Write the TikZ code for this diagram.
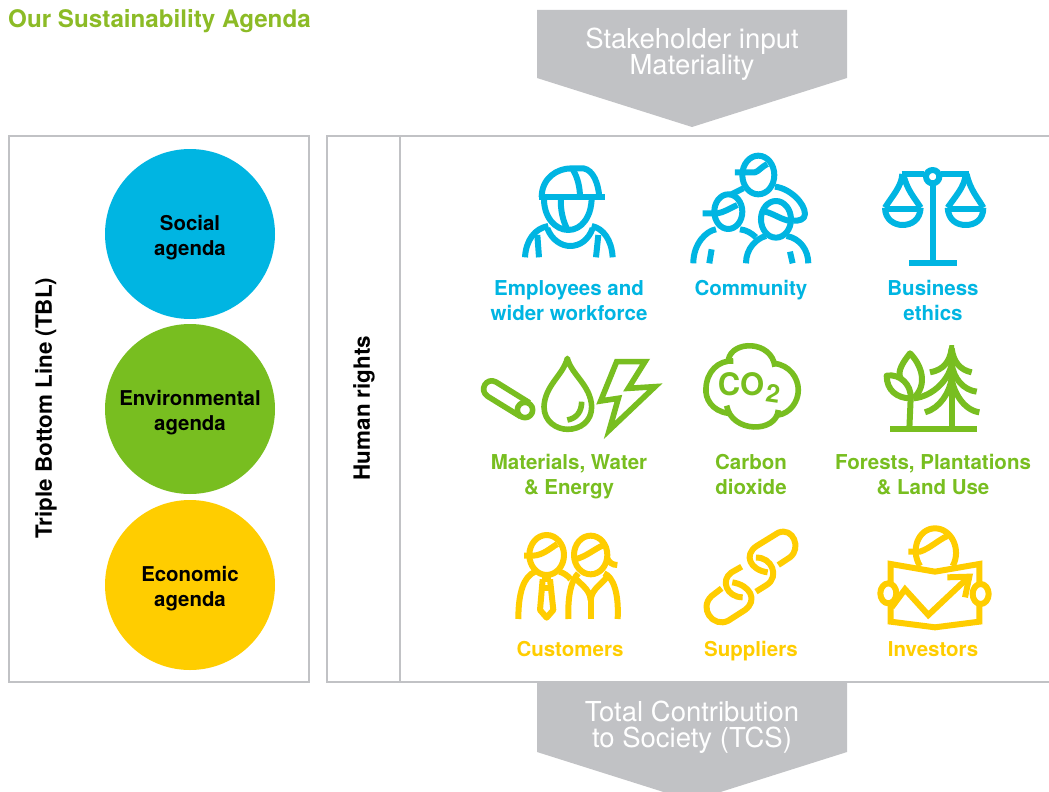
\documentclass[tikz,border=0pt]{standalone}
\usepackage{fontspec}
\setmainfont{TeX Gyre Heros}
\definecolor{cy}{HTML}{00B5E2}
\definecolor{gr}{HTML}{78BE20}
\definecolor{ye}{HTML}{FFCD00}
\definecolor{gy}{HTML}{C1C2C5}
\definecolor{ttl}{HTML}{8CBB26}
\tikzset{
 frame/.style={draw=gy,line width=2.4pt,fill=white},
 greyarrow/.style={fill=gy,draw=none},
 greytext/.style={text=white,font=\fontsize{27.5}{27}\selectfont,align=center,inner sep=0pt},
 lab/.style={font=\bfseries\fontsize{20.5}{25}\selectfont,align=center,inner sep=0pt},
 blacklab/.style={font=\bfseries\fontsize{20.4}{25}\selectfont,align=center,inner sep=0pt,text=black},
 sidelab/.style={font=\bfseries\fontsize{22.4}{25}\selectfont,inner sep=0pt,text=black},
 disc/.style={circle,minimum size=170pt,inner sep=0pt,draw=none},
 ico/.style={line width=6pt,line cap=butt,line join=round},
}
\begin{document}
\begin{tikzpicture}[x=1pt,y=-1pt]
\useasboundingbox (0,0) rectangle (1049,792);
\clip (0,0) rectangle (1049,792);
\node[anchor=base west,inner sep=0pt,text=ttl,font=\bfseries\fontsize{24.2}{25}\selectfont] (title) at (8,28) {Our Sustainability Agenda};
% arrows
\fill[greyarrow] (537,10)--(847,10)--(847,78)--(692,127)--(537,78)--cycle;
\fill[greyarrow] (537,683)--(847,683)--(847,752)--(692,801)--(537,752)--cycle;
\node[greytext] (input) at (692,54) {Stakeholder input\\[-1pt]Materiality};
\node[greytext] (tcs) at (692,727) {Total Contribution\\[-1pt]to Society (TCS)};
% frames
\draw[frame] (9,136) rectangle (309,682);
\draw[frame] (327,136) rectangle (1060,682);
\draw[draw=gy,line width=2.4pt] (400,136)--(400,682);
\node[sidelab,rotate=90] (tbl) at (46,408) {Triple Bottom Line (TBL)};
\node[sidelab,rotate=90] (hr) at (364,408) {Human rights};
% discs
\node[disc,fill=cy] (soc) at (190,234) {};
\node[disc,fill=gr] (env) at (190,409) {};
\node[disc,fill=ye] (eco) at (190,585) {};
\node[blacklab] (tsoc) at (190,238) {Social\\agenda};
\node[blacklab] (tenv) at (190,413) {Environmental\\agenda};
\node[blacklab] (teco) at (190,589) {Economic\\agenda};
% labels
\node[lab,text=cy] (l1) at (569,301) {Employees and\\wider workforce};
\node[lab,text=cy,anchor=base] (l2) at (751,295) {Community};
\node[lab,text=cy] (l3) at (933,300) {Business\\ethics};
\node[lab,text=gr] (l4) at (569,477) {Materials, Water\\\& Energy};
\node[lab,text=gr] (l5) at (751,474) {Carbon\\dioxide};
\node[lab,text=gr] (l6) at (933,475) {Forests, Plantations\\\& Land Use};
\node[lab,text=ye,anchor=base] (l7) at (570,656) {Customers};
\node[lab,text=ye,anchor=base] (l8) at (751,656) {Suppliers};
\node[lab,text=ye,anchor=base] (l9) at (933,656) {Investors};
% employee + community
\begin{scope}[shift={(480,140)},x=0.3333pt,y=-0.3333pt,draw=cy,ico]
\draw (185,172) .. controls (185,115) and (230,85) .. (275,85) -- (310,85) .. controls (340,90) and (355,130) .. (358,172);
\draw (176,172) -- (375,172);
\draw (278,88) .. controls (292,110) and (300,140) .. (300,172);
\draw (192,172) .. controls (190,230) and (225,270) .. (265,270) .. controls (305,270) and (335,230) .. (335,172);
\draw (243,172) .. controls (240,210) and (250,245) .. (262,268);
\draw (135,352) .. controls (138,300) and (165,265) .. (205,258);
\draw (398,352) .. controls (395,300) and (370,265) .. (335,258);
\draw (202,265) .. controls (215,300) and (245,318) .. (270,318) .. controls (300,318) and (325,300) .. (338,265);
\draw (177,352) -- (172,285);
\draw (348,352) -- (355,285);
% community
\draw (835,105) ellipse [x radius=48,y radius=58];
\draw (765,97) -- (825,97) .. controls (835,95) and (845,80) .. (862,72);
\draw (750,165) -- (790,145);
\draw (885,140) .. controls (930,145) and (975,190) .. (975,222) .. controls (975,240) and (955,243) .. (940,242);
\draw (745,215) ellipse [x radius=42,y radius=52];
\draw (668,220) -- (712,220) .. controls (730,218) and (750,205) .. (772,195);
\draw (640,370) .. controls (640,310) and (680,272) .. (708,268);
\draw (780,268) .. controls (800,270) and (815,280) .. (828,292);
\draw (695,328) -- (688,370);
\draw (888,238) ellipse [x radius=45,y radius=55];
\draw (855,215) .. controls (880,220) and (905,240) .. (932,243);
\draw (798,370) .. controls (798,325) and (830,295) .. (858,288);
\draw (920,288) .. controls (960,295) and (985,330) .. (985,370);
\draw (930,335) -- (938,370);
\end{scope}
% scales
\begin{scope}[shift={(820,140)},x=0.3333pt,y=-0.3333pt,draw=cy,ico]
\draw (338,110) circle [radius=20];
\draw (245,102) -- (312,102);
\draw (364,102) -- (447,102);
\draw (338,132) -- (338,370);
\draw (268,370) -- (412,370);
\draw (195,207) -- (303,207);
\draw (195,203) .. controls (195,240) and (225,255) .. (247,255) .. controls (275,255) and (300,240) .. (302,203);
\draw (247,102) .. controls (245,140) and (215,170) .. (195,203);
\draw (250,102) .. controls (260,150) and (285,175) .. (302,203);
\draw (385,207) -- (490,207);
\draw (383,203) .. controls (385,240) and (410,255) .. (437,255) .. controls (465,255) and (490,240) .. (490,203);
\draw (437,102) .. controls (435,140) and (405,170) .. (383,203);
\draw (440,102) .. controls (450,150) and (475,175) .. (490,203);
\end{scope}
% materials, water, energy, CO2
\begin{scope}[shift={(470,335)},x=0.3333pt,y=-0.3333pt,draw=gr,ico,line width=5.6pt]
\draw (165,225) circle [radius=23];
\draw (178,203) -- (78,141) .. controls (50,125) and (25,165) .. (53,184) -- (152,245);
\draw (292,70) .. controls (280,120) and (225,150) .. (222,215) .. controls (222,260) and (260,283) .. (293,283) .. controls (330,283) and (365,260) .. (365,215) .. controls (362,150) and (305,120) .. (292,70) -- cycle;
\draw (335,200) .. controls (335,230) and (320,250) .. (292,255);
\draw[line join=miter] (440,80) -- (525,80) -- (475,160) -- (555,155) -- (418,285) -- (445,190) -- (392,198) -- cycle;
\draw (775,75) .. controls (785,15) and (905,15) .. (915,95);
\draw (912,85) .. controls (960,90) and (985,130) .. (985,165) .. controls (985,200) and (960,235) .. (925,240);
\draw (925,225) .. controls (920,295) and (785,295) .. (770,212);
\draw (775,235) .. controls (725,228) and (705,190) .. (708,160) .. controls (710,110) and (745,75) .. (790,78);
\end{scope}
\node[inner sep=0pt,text=gr,font=\bfseries\fontsize{31}{30}\selectfont] (co) at (741,384) {CO};
\node[inner sep=0pt,text=gr,font=\bfseries\fontsize{25}{22}\selectfont,rotate=-8] (two) at (773,394) {2};
% forest
\begin{scope}[shift={(870,335)},x=0.3333pt,y=-0.3333pt,draw=gr,ico]
\draw (60,282) -- (320,282);
\draw (245,60) -- (245,282);
\fill[gr] (238,30) -- (252,30) -- (256,90) -- (234,90) -- cycle;
\draw (180,112) .. controls (220,105) and (240,80) .. (245,40);
\draw (305,112) .. controls (270,105) and (250,80) .. (245,40);
\draw (130,190) .. controls (190,185) and (240,130) .. (245,85);
\draw (320,170) .. controls (280,165) and (250,130) .. (245,85);
\draw (165,232) .. controls (210,220) and (240,170) .. (245,130);
\draw (328,232) .. controls (280,225) and (250,170) .. (245,130);
\draw (92,130) .. controls (80,110) and (100,80) .. (120,55) .. controls (155,90) and (175,150) .. (130,190);
\draw (50,122) .. controls (90,115) and (125,150) .. (122,190) .. controls (80,190) and (50,165) .. (50,122) -- cycle;
\draw (122,190) -- (118,282);
\end{scope}
% customers + chain
\begin{scope}[shift={(500,520)},x=0.3333pt,y=-0.3333pt,draw=ye,ico]
\draw (140,105) ellipse [x radius=52,y radius=60];
\draw (72,107) -- (100,107) .. controls (130,105) and (150,85) .. (172,72);
\draw (55,297) .. controls (55,220) and (70,170) .. (105,155);
\draw (178,155) .. controls (190,158) and (205,168) .. (212,178);
\draw (125,178) -- (153,178);
\draw (128,205) -- (150,205);
\draw (128,178) -- (120,270) -- (140,293) -- (160,270) -- (150,178);
\draw (272,105) ellipse [x radius=50,y radius=58];
\draw (225,118) .. controls (260,110) and (285,85) .. (312,75);
\draw (320,110) .. controls (325,128) and (338,135) .. (352,135);
\draw (205,297) .. controls (203,220) and (215,180) .. (235,160);
\draw (312,160) .. controls (340,170) and (357,220) .. (353,297);
\draw (222,168) .. controls (235,190) and (270,205) .. (272,240);
\draw (325,165) .. controls (310,190) and (275,205) .. (272,240);
\draw (272,240) -- (272,297);
% chain
\draw (835,135) -- (870,112) .. controls (905,85) and (880,20) .. (835,38) -- (770,78) .. controls (730,105) and (750,150) .. (803,157);
\draw (768,113) .. controls (815,110) and (840,170) .. (800,195) -- (768,215);
\draw (665,205) -- (635,228) .. controls (595,265) and (640,325) .. (685,302) -- (735,270) .. controls (775,240) and (750,195) .. (697,187);
\draw (725,140) -- (695,157) .. controls (660,180) and (680,232) .. (728,232);
\end{scope}
% investors
\begin{scope}[shift={(860,520)},x=0.3333pt,y=-0.3333pt,draw=ye,ico]
\draw (180,138) .. controls (150,90) and (175,25) .. (225,25) .. controls (275,25) and (305,90) .. (278,138);
\draw (145,95) -- (180,95) .. controls (210,85) and (235,60) .. (262,48);
\draw[line join=miter] (92,190) -- (92,132) -- (225,155) -- (358,132) -- (358,195);
\draw[line join=miter] (92,255) -- (92,305) -- (225,322) -- (358,305) -- (358,248);
\draw (85,220) ellipse [x radius=24,y radius=30];
\draw (362,222) ellipse [x radius=24,y radius=30];
\draw[line join=miter] (95,262) -- (135,208) -- (205,285) -- (325,172);
\draw[line join=miter] (262,172) -- (328,170) -- (315,232);
\end{scope}
\end{tikzpicture}
\end{document}
